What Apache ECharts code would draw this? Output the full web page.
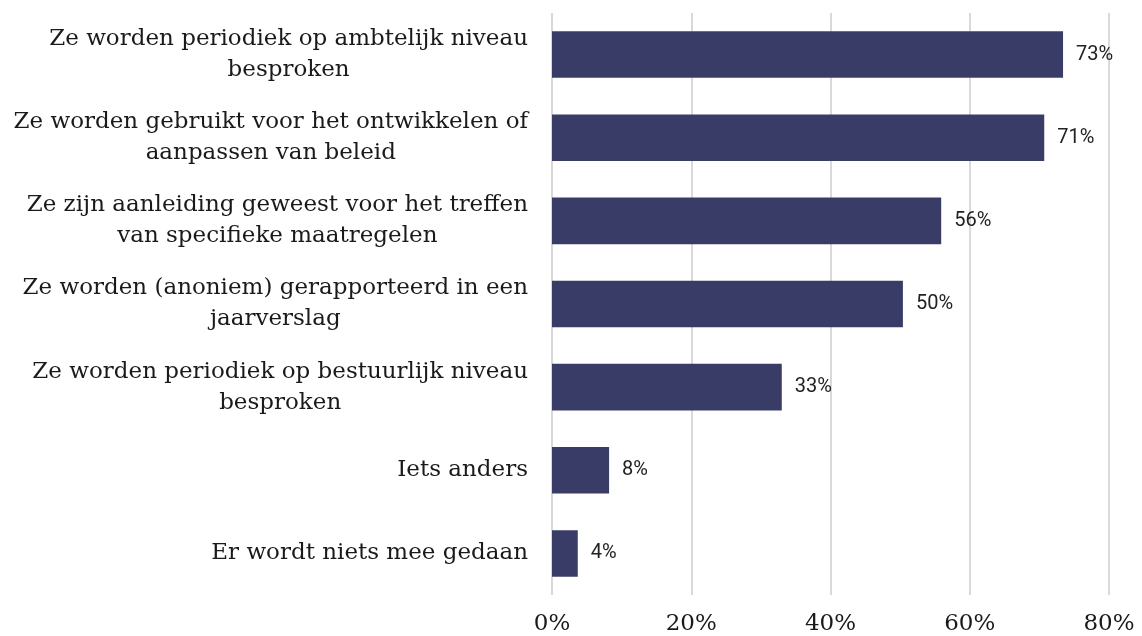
<!DOCTYPE html>
<html>
<head>
<meta charset="utf-8">
<script src="https://cdn.jsdelivr.net/npm/echarts@6/dist/echarts.min.js"></script>
<style>
    html, body { margin: 0; padding: 0; background: #fff; }
    #chart { width: 1142px; height: 636px; }
</style>
</head>
<body>
<div id="chart"></div>
<script>
    // categories, top to bottom
    const categories = [
        'Ze worden periodiek op ambtelijk niveau\nbesproken',
        'Ze worden gebruikt voor het ontwikkelen of\naanpassen van beleid',
        'Ze zijn aanleiding geweest voor het treffen\nvan specifieke maatregelen',
        'Ze worden (anoniem) gerapporteerd in een\njaarverslag',
        'Ze worden periodiek op bestuurlijk niveau\nbesproken',
        'Iets anders',
        'Er wordt niets mee gedaan'
    ];
    const values = [73.4, 70.7, 55.9, 50.4, 33.0, 8.2, 3.7];
    const ticks = [0, 20, 40, 60, 80];

    let chart = echarts.init(document.getElementById('chart'));
    let option = {
        animation: false,
        grid: {
            left: 552,
            right: 33,
            top: 13,
            bottom: 41
        },
        xAxis: {
            type: 'value',
            min: ticks[0],
            max: ticks[ticks.length - 1],
            interval: ticks[1] - ticks[0],
            axisLine: {show: false},
            axisTick: {show: false},
            splitLine: {
                lineStyle: {color: '#d9d9d9', width: 2}
            },
            axisLabel: {
                margin: 18,
                fontFamily: 'DejaVu Serif',
                fontSize: 23,
                color: '#1a1a1a',
                formatter: '{value}%'
            }
        },
        yAxis: {
            type: 'category',
            inverse: true,
            data: categories,
            axisLine: {show: false},
            axisTick: {show: false},
            axisLabel: {
                margin: 24,
                align: 'right',
                formatter: function (value) {
                    return value.split('\n').map(function (line) {
                        return '{c|' + line + '}';
                    }).join('\n');
                },
                rich: {
                    c: {
                        align: 'center',
                        fontFamily: 'DejaVu Serif',
                        fontSize: 23,
                        lineHeight: 31,
                        color: '#1a1a1a'
                    }
                }
            }
        },
        series: [
            {
                type: 'bar',
                data: values,
                barCategoryGap: '44%',
                itemStyle: {color: '#383c66'},
                label: {
                    show: true,
                    position: 'right',
                    distance: 13,
                    fontFamily: 'Roboto',
                    fontSize: 20,
                    color: '#222',
                    formatter: function (params) {
                        return Math.round(params.value) + '%';
                    }
                }
            }
        ]
    };
    chart.setOption(option);
</script>
</body>
</html>
